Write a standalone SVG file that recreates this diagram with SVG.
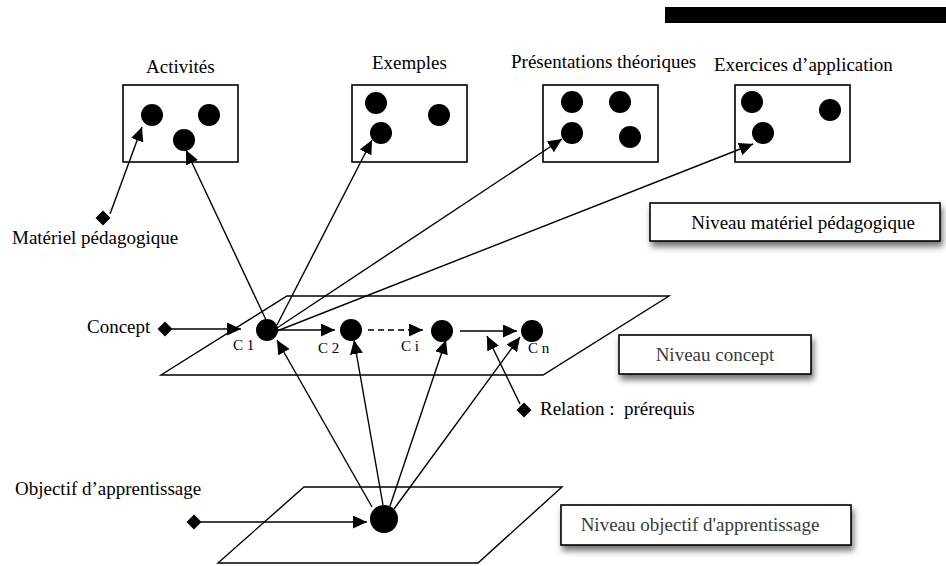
<svg xmlns="http://www.w3.org/2000/svg" width="946" height="566" viewBox="0 0 946 566">
<style>
  text { font-family: "Liberation Serif", "Times New Roman", serif; font-size: 19px; fill: #000; }
  .lbl { font-size: 15px; }
  .soft { fill: #3a3a3a; }
  .box { fill: #fff; stroke: #000; stroke-width: 1.6; }
  .plane { fill: none; stroke: #000; stroke-width: 1.4; }
  .dot { fill: #000; }
  .ln { stroke: #000; stroke-width: 1.4; fill: none; marker-end: url(#ah); }
  .dash { stroke-dasharray: 6 4; }
  .dia { fill: #000; }
</style>
<defs>
  <marker id="ah" markerUnits="userSpaceOnUse" markerWidth="15" markerHeight="14" refX="14" refY="6.5" orient="auto">
    <path d="M0,0 L14,6.5 L0,13 z" fill="#000"/>
  </marker>
  <filter id="sh" x="-10%" y="-30%" width="120%" height="180%">
    <feDropShadow dx="2" dy="5" stdDeviation="3" flood-color="#000" flood-opacity="0.55"/>
  </filter>
</defs>
<rect x="0" y="0" width="946" height="566" fill="#fff"/>
<rect x="665" y="7" width="281" height="16" fill="#000"/>

<g id="planes">
  <polygon class="plane" points="287,296 669,296 543,375 161,375"/>
  <polygon class="plane" points="304,487 562,487 478,563 218,563"/>
</g>

<g id="activites">
  <text x="146" y="73">Activités</text>
  <rect class="box" x="123" y="85" width="115" height="77"/>
  <circle class="dot" cx="152" cy="115" r="11"/>
  <circle class="dot" cx="209" cy="115" r="11"/>
  <circle class="dot" cx="184" cy="140" r="11"/>
</g>
<g id="exemples">
  <text x="372" y="69">Exemples</text>
  <rect class="box" x="352" y="85" width="115" height="77"/>
  <circle class="dot" cx="376" cy="103" r="11"/>
  <circle class="dot" cx="439" cy="115" r="11"/>
  <circle class="dot" cx="381" cy="133" r="11"/>
</g>
<g id="presentations">
  <text x="511" y="68">Présentations théoriques</text>
  <rect class="box" x="543" y="85" width="115" height="77"/>
  <circle class="dot" cx="572" cy="102" r="11"/>
  <circle class="dot" cx="620" cy="102" r="11"/>
  <circle class="dot" cx="572" cy="133" r="11"/>
  <circle class="dot" cx="630" cy="137" r="11"/>
</g>
<g id="exercices">
  <text x="714" y="71">Exercices d’application</text>
  <rect class="box" x="735" y="85" width="115" height="77"/>
  <circle class="dot" cx="752" cy="102" r="11"/>
  <circle class="dot" cx="830" cy="110" r="11"/>
  <circle class="dot" cx="763" cy="133" r="11"/>
</g>

<g id="niveau-materiel">
  <rect class="box" x="650" y="203" width="290" height="38" filter="url(#sh)"/>
  <text x="803" y="229" text-anchor="middle">Niveau matériel pédagogique</text>
</g>
<g id="niveau-concept">
  <rect class="box" x="619" y="335" width="192" height="39" filter="url(#sh)"/>
  <text class="soft" x="715" y="361" text-anchor="middle">Niveau concept</text>
</g>
<g id="niveau-objectif">
  <rect class="box" x="561" y="505" width="290" height="40" filter="url(#sh)"/>
  <text class="soft" x="700" y="531" text-anchor="middle">Niveau objectif d'apprentissage</text>
</g>

<g id="materiel-label">
  <polygon class="dia" points="103,210.5 110.5,218 103,225.5 95.5,218"/>
  <text x="12" y="244">Matériel pédagogique</text>
</g>
<g id="concept-label">
  <polygon class="dia" points="165,321.5 172.5,329 165,336.5 157.5,329"/>
  <text x="87" y="333">Concept</text>
</g>
<g id="objectif-label">
  <polygon class="dia" points="194,514.5 201.5,522 194,529.5 186.5,522"/>
  <text x="15" y="495">Objectif d’apprentissage</text>
</g>
<g id="relation-label">
  <polygon class="dia" points="524,402.5 531.5,410 524,417.5 516.5,410"/>
  <text x="540" y="415" xml:space="preserve">Relation :  prérequis</text>
</g>

<g id="c1">
  <circle class="dot" cx="267" cy="330" r="11"/>
  <text class="lbl" x="233" y="350">C 1</text>
</g>
<g id="c2">
  <circle class="dot" cx="351" cy="330" r="11"/>
  <text class="lbl" x="318" y="353">C 2</text>
</g>
<g id="ci">
  <circle class="dot" cx="442" cy="331" r="11"/>
  <text class="lbl" x="401" y="351">C i</text>
</g>
<g id="cn">
  <circle class="dot" cx="532" cy="331" r="11"/>
  <text class="lbl" x="528" y="353">C n</text>
</g>
<g id="objectif">
  <circle class="dot" cx="384" cy="519" r="14"/>
</g>

<g id="connectors">
  <line class="ln" x1="110" y1="214" x2="142" y2="127"/>
  <line class="ln" x1="172" y1="329" x2="241" y2="329"/>
  <line class="ln" x1="201" y1="522" x2="367" y2="522"/>
  <line class="ln" x1="520" y1="404" x2="487" y2="336"/>

  <line class="ln" x1="267" y1="322" x2="186" y2="150"/>
  <line class="ln" x1="277" y1="325" x2="372" y2="140"/>
  <line class="ln" x1="277" y1="328" x2="562" y2="139"/>
  <line class="ln" x1="277" y1="331" x2="753" y2="144"/>

  <line class="ln" x1="278" y1="330" x2="335" y2="330"/>
  <line class="ln dash" x1="368" y1="330" x2="423" y2="330"/>
  <line class="ln" x1="460" y1="331" x2="517" y2="331"/>

  <line class="ln" x1="372" y1="507" x2="277" y2="340"/>
  <line class="ln" x1="383" y1="505" x2="354" y2="340"/>
  <line class="ln" x1="390" y1="506" x2="446" y2="340"/>
  <line class="ln" x1="394" y1="509" x2="520" y2="337"/>
</g>
</svg>
